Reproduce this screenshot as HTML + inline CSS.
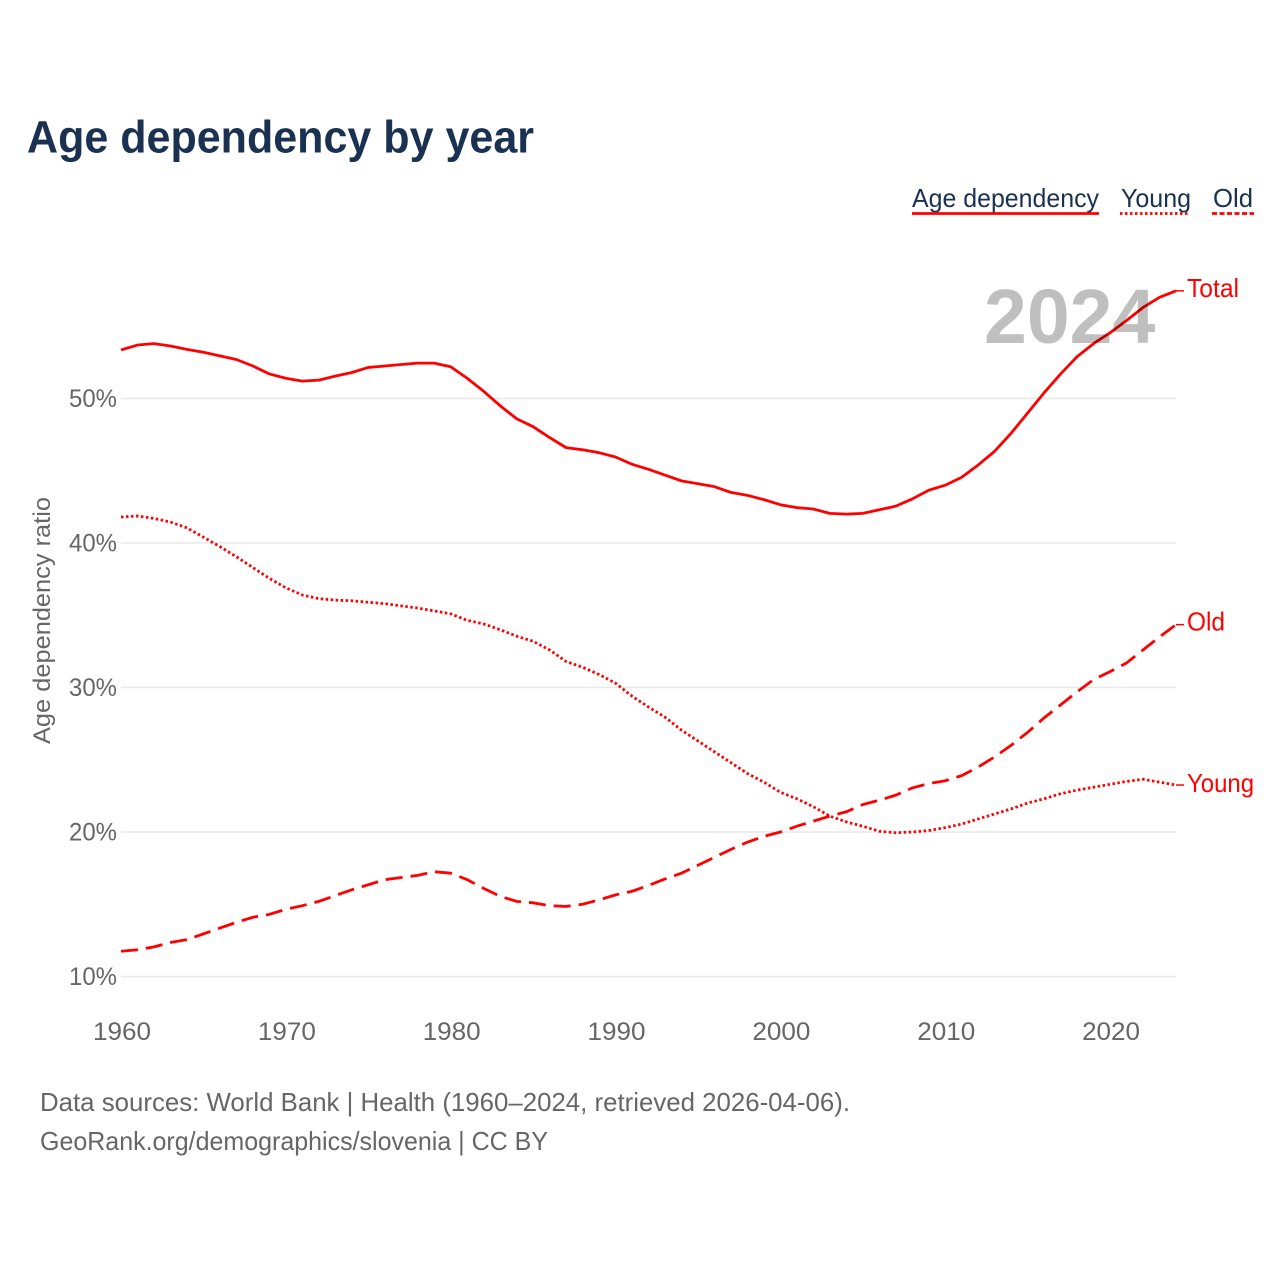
<!DOCTYPE html>
<html lang="en">
<head>
<meta charset="utf-8">
<title>Age dependency by year</title>
<style>
html,body{margin:0;padding:0;background:#fff;}
svg{display:block;font-family:"Liberation Sans",sans-serif;}
</style>
</head>
<body>
<svg id="chart" width="1280" height="1280" viewBox="0 0 1280 1280" xmlns="http://www.w3.org/2000/svg">
  <rect width="1280" height="1280" fill="#fff"/>
  <text x="27" y="152.5" font-size="45" font-weight="700" fill="#1a3152" textLength="507" lengthAdjust="spacingAndGlyphs">Age dependency by year</text>

  <g font-size="26" fill="#1a3152">
    <text x="912" y="207" textLength="187" lengthAdjust="spacingAndGlyphs">Age dependency</text>
    <line x1="912" y1="213.5" x2="1099" y2="213.5" stroke="#f00" stroke-width="2.7"/>
    <text x="1121" y="207" textLength="70" lengthAdjust="spacingAndGlyphs">Young</text>
    <line x1="1120" y1="213.5" x2="1190" y2="213.5" stroke="#f00" stroke-width="2.7" stroke-dasharray="2.5 2.5"/>
    <text x="1213" y="207" textLength="40" lengthAdjust="spacingAndGlyphs">Old</text>
    <line x1="1212" y1="213.5" x2="1254" y2="213.5" stroke="#f00" stroke-width="2.7" stroke-dasharray="5 2.5"/>
  </g>

  <g id="grid"></g>
  <g id="ylabels"></g>
  <g id="xlabels"></g>
  <text transform="translate(50,620.5) rotate(-90)" text-anchor="middle" font-size="24" fill="#666" textLength="247" lengthAdjust="spacingAndGlyphs">Age dependency ratio</text>

  <g id="series"></g>
  <g id="endlabels"></g>

  <text x="984" y="343" font-size="77" font-weight="700" fill="#000" fill-opacity="0.25">2024</text>

  <g font-size="26" fill="#666">
    <text x="40" y="1111" textLength="810" lengthAdjust="spacingAndGlyphs">Data sources: World Bank | Health (1960–2024, retrieved 2026-04-06).</text>
    <text x="40" y="1150" textLength="508" lengthAdjust="spacingAndGlyphs">GeoRank.org/demographics/slovenia | CC BY</text>
  </g>
</svg>
<script>
const startYear = 1960;
const endYear = 2024;
const xTicks = [1960, 1970, 1980, 1990, 2000, 2010, 2020];
const yTicks = [10, 20, 30, 40, 50];
const totalValues = [53.36,53.7,53.8,53.63,53.4,53.2,52.95,52.7,52.25,51.7,51.4,51.2,51.27,51.55,51.8,52.15,52.25,52.35,52.45,52.45,52.2,51.4,50.5,49.5,48.6,48.05,47.3,46.6,46.45,46.25,45.95,45.45,45.1,44.7,44.3,44.1,43.9,43.5,43.3,43,42.65,42.45,42.35,42.05,42,42.05,42.3,42.55,43.05,43.65,44,44.55,45.4,46.35,47.6,49,50.4,51.7,52.9,53.8,54.55,55.4,56.3,57,57.45];
const youngValues = [41.8,41.87,41.7,41.45,41.05,40.4,39.75,39.05,38.3,37.55,36.9,36.4,36.15,36.05,36,35.9,35.8,35.65,35.5,35.3,35.1,34.65,34.4,34,33.55,33.2,32.6,31.8,31.4,30.9,30.3,29.4,28.65,27.95,27.05,26.3,25.55,24.8,24.05,23.45,22.75,22.3,21.75,21.1,20.7,20.4,20.05,19.95,20,20.1,20.3,20.55,20.9,21.25,21.6,22,22.3,22.65,22.9,23.1,23.3,23.5,23.65,23.45,23.25];
const oldValues = [11.75,11.85,12.05,12.35,12.55,12.95,13.35,13.75,14.1,14.3,14.65,14.9,15.2,15.6,16,16.35,16.7,16.85,17,17.25,17.15,16.7,16.1,15.55,15.2,15.1,14.9,14.85,15,15.3,15.65,15.9,16.3,16.75,17.15,17.7,18.25,18.8,19.3,19.7,20,20.4,20.75,21.1,21.4,21.9,22.2,22.55,23.05,23.35,23.55,23.9,24.5,25.2,26,26.9,27.9,28.8,29.7,30.55,31.1,31.7,32.6,33.5,34.35];

const NS = 'http://www.w3.org/2000/svg';
const xScale = year => 121 + (year - startYear) * (1176 - 121) / (endYear - startYear);
const yScale = v => 976.5 - (v - 10) * 14.45;
function make(tag, parentId, attrs, text) {
  const el = document.createElementNS(NS, tag);
  for (const k in attrs) el.setAttribute(k, attrs[k]);
  if (text !== undefined) el.textContent = text;
  document.getElementById(parentId).appendChild(el);
  return el;
}

yTicks.forEach(t => {
  const line = make('line', 'grid', {x1: xScale(startYear), x2: xScale(endYear), y1: yScale(t), y2: yScale(t), stroke: '#e8e8e8', 'stroke-width': 1.5});
  
  
  const label = make('text', 'ylabels', {x: 117, y: yScale(t) + 8.5, 'text-anchor': 'end', 'font-size': 25, fill: '#666', textLength: 48, lengthAdjust: 'spacingAndGlyphs'}, t + '%');
  
  
});

xTicks.forEach(t => {
  const label = make('text', 'xlabels', {x: xScale(t) + 1, y: 1040, 'text-anchor': 'middle', 'font-size': 25, fill: '#666', textLength: 58, lengthAdjust: 'spacingAndGlyphs'}, String(t));
  
  
});

function pointsOf(values) {
  return values.map((v, i) => xScale(startYear + i).toFixed(2) + ',' + yScale(v).toFixed(2)).join(' ');
}

const totalLine = make('polyline', 'series', {points: pointsOf(totalValues), fill: 'none', stroke: '#f00', 'stroke-width': 2.8, 'stroke-linejoin': 'round'});



const youngLine = make('polyline', 'series', {points: pointsOf(youngValues), fill: 'none', stroke: '#f00', 'stroke-width': 2.8, 'stroke-dasharray': '2.5 2.5'});



const oldLine = make('polyline', 'series', {points: pointsOf(oldValues), fill: 'none', stroke: '#f00', 'stroke-width': 2.8, 'stroke-dasharray': '17 8'});



function endValue(values) { return values[values.length - 1]; }

const totalLeader = make('line', 'endlabels', {x1: xScale(endYear), x2: 1184, y1: yScale(endValue(totalValues)), y2: yScale(endValue(totalValues)), stroke: '#f00', 'stroke-width': 1.5});


const totalLabel = make('text', 'endlabels', {x: 1187, y: yScale(endValue(totalValues)) + 6, 'font-size': 26, fill: '#f00', textLength: 52, lengthAdjust: 'spacingAndGlyphs'}, 'Total');



const oldLeader = make('line', 'endlabels', {x1: xScale(endYear), x2: 1184, y1: yScale(endValue(oldValues)), y2: yScale(endValue(oldValues)), stroke: '#f00', 'stroke-width': 1.5});


const oldLabel = make('text', 'endlabels', {x: 1187, y: yScale(endValue(oldValues)) + 6, 'font-size': 26, fill: '#f00', textLength: 38, lengthAdjust: 'spacingAndGlyphs'}, 'Old');



const youngLeader = make('line', 'endlabels', {x1: xScale(endYear), x2: 1184, y1: yScale(endValue(youngValues)), y2: yScale(endValue(youngValues)), stroke: '#f00', 'stroke-width': 1.5});


const youngLabel = make('text', 'endlabels', {x: 1187, y: yScale(endValue(youngValues)) + 7, 'font-size': 26, fill: '#f00', textLength: 67, lengthAdjust: 'spacingAndGlyphs'}, 'Young');


</script>
</body>
</html>
